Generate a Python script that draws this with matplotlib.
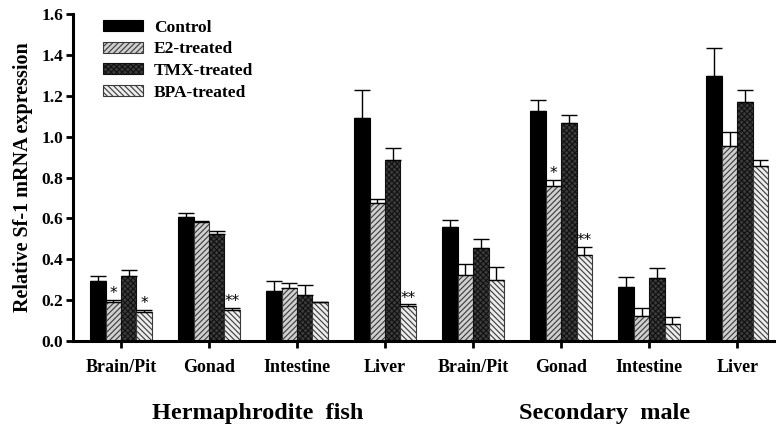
import numpy as np
import matplotlib
matplotlib.use("Agg")
import matplotlib.pyplot as plt

tissues = ["Brain/Pit", "Gonad", "Intestine", "Liver",
           "Brain/Pit", "Gonad", "Intestine", "Liver"]
groups = ["Hermaphrodite  fish", "Secondary  male"]
treatments = ["Control", "E2-treated", "TMX-treated", "BPA-treated"]

control = [0.294, 0.608, 0.244, 1.094, 0.560, 1.127, 0.263, 1.296]
control_err = [0.025, 0.018, 0.049, 0.134, 0.032, 0.053, 0.051, 0.136]
e2 = [0.189, 0.585, 0.262, 0.677, 0.323, 0.757, 0.123, 0.957]
e2_err = [0.011, 0.005, 0.024, 0.016, 0.056, 0.033, 0.039, 0.064]
tmx = [0.316, 0.522, 0.224, 0.884, 0.457, 1.068, 0.311, 1.169]
tmx_err = [0.034, 0.016, 0.051, 0.060, 0.042, 0.036, 0.045, 0.059]
bpa = [0.140, 0.150, 0.189, 0.174, 0.301, 0.421, 0.084, 0.859]
bpa_err = [0.010, 0.012, 0.003, 0.005, 0.063, 0.039, 0.035, 0.025]

e2_sig = ["*", "", "", "", "", "*", "", ""]
bpa_sig = ["*", "**", "", "**", "", "**", "", ""]

plt.rcParams["font.family"] = ["Liberation Serif", "DejaVu Serif"]
plt.rcParams["font.weight"] = "bold"
plt.rcParams["hatch.linewidth"] = 0.8

fig = plt.figure(figsize=(7.76, 4.29), dpi=100)
ax = fig.add_axes([0.094, 0.205, 0.906, 0.762])

x = np.arange(len(tissues))
width = 0.175
series = [
    (control, control_err, dict(color="black", edgecolor="black")),
    (e2, e2_err, dict(facecolor="#cfcfcf", edgecolor="#3a3a3a", hatch="//////")),
    (tmx, tmx_err, dict(facecolor="#3c3c3c", edgecolor="#111111", hatch="xxxxxx")),
    (bpa, bpa_err, dict(facecolor="#ececec", edgecolor="#3a3a3a", hatch="\\\\\\\\\\\\")),
]

for i, (vals, errs, style) in enumerate(series):
    pos = x + (i - 1.5) * width
    ax.bar(pos, vals, width, linewidth=0.8, label=treatments[i], zorder=2, **style)
    ax.errorbar(pos, vals, yerr=[np.zeros(len(errs)), errs], fmt="none",
                ecolor="black", elinewidth=1.0, capsize=6, capthick=1.0, zorder=3)

# significance marks over E2 and BPA bars
for sig_list, vals, errs, i in [(e2_sig, e2, e2_err, 1), (bpa_sig, bpa, bpa_err, 3)]:
    for j, s in enumerate(sig_list):
        if s:
            ax.text(x[j] + (i - 1.5) * width, vals[j] + errs[j] - 0.005, s,
                    ha="center", va="bottom", fontsize=11, fontweight="normal",
                    family="DejaVu Sans")

ax.set_xlim(-0.545, 7.44)
ax.set_ylim(0, 1.6)
ax.set_yticks(np.arange(0, 1.61, 0.2))
ax.set_yticklabels([f"{v:.1f}" for v in np.arange(0, 1.61, 0.2)])
ax.set_xticks(x)
ax.set_xticklabels(tissues)
ax.tick_params(axis="x", length=5, width=2, labelsize=13, pad=8)
ax.tick_params(axis="y", length=5, width=2, labelsize=12.5, pad=2)
for lab in ax.get_xticklabels() + ax.get_yticklabels():
    lab.set_fontweight("bold")

ax.spines["top"].set_visible(False)
ax.spines["right"].set_visible(False)
ax.spines["left"].set_linewidth(2.2)
ax.spines["bottom"].set_linewidth(2.2)

ax.set_ylabel("Relative Sf-1 mRNA expression", fontsize=14.5, fontweight="bold", labelpad=6)

ax.legend(loc="upper left", bbox_to_anchor=(0.031, 1.01), frameon=False,
          handlelength=2.3, handleheight=0.6, labelspacing=0.33,
          borderpad=0, handletextpad=0.6, prop={"weight": "bold", "size": 12.5})

fig.text(258 / 776, 1 - 413 / 429, groups[0], ha="center", va="center",
         fontsize=17.5, fontweight="bold")
fig.text(605 / 776, 1 - 413 / 429, groups[1], ha="center", va="center",
         fontsize=17.5, fontweight="bold")

fig.savefig("out.png", dpi=100)
